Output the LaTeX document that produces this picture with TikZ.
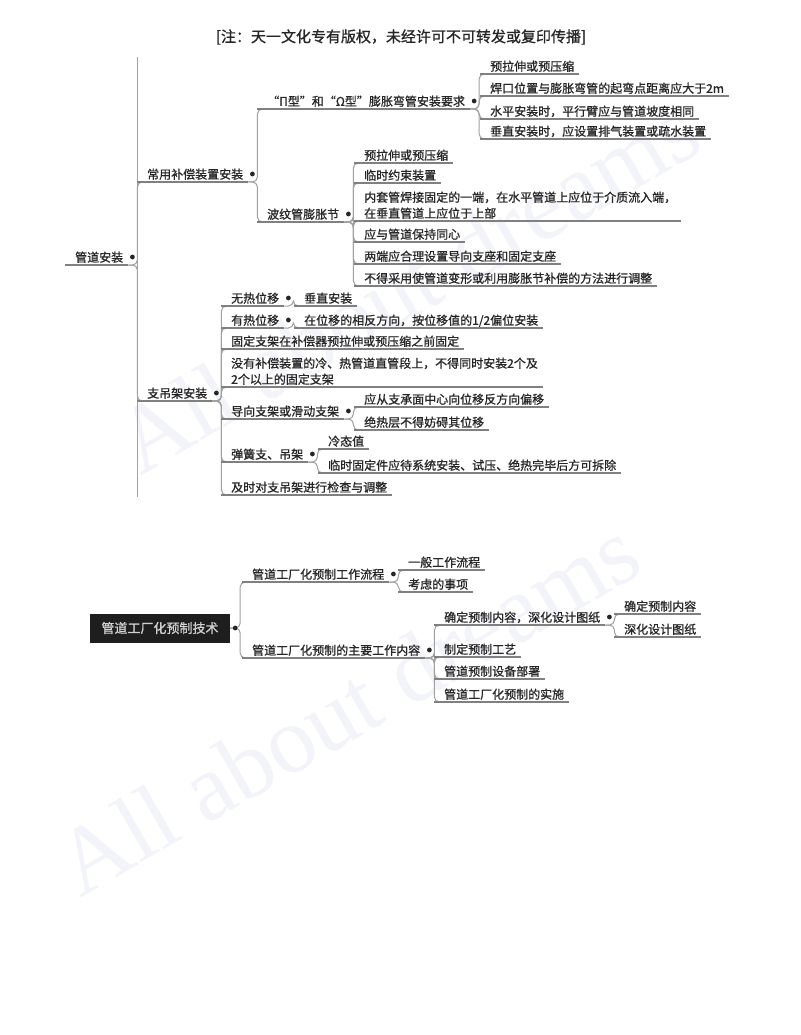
\documentclass[tikz,border=0pt]{standalone}
\usepackage{fontspec}
\newfontfamily\cjk[FakeBold=0.9]{Noto Sans CJK SC}
\newfontfamily\marcafont{Liberation Serif}
\definecolor{texto}{HTML}{262626}
\definecolor{linea}{HTML}{808080}
\definecolor{gris}{HTML}{A0A0A0}
\definecolor{fondo}{HTML}{1E1E1E}
\definecolor{agua}{HTML}{F2F4F9}
\tikzset{
	x=1pt, y=-1pt, % Coordenadas como pixeles, eje y hacia abajo
	tema/.style={anchor=south west, inner sep=0pt, text height=9pt, text depth=3pt, align=left, text=texto, font=\cjk\fontsize{12}{16}\selectfont}, % Texto de cada tema
	raiz/.style={fill=fondo, text=white!82!black, minimum width=140pt, minimum height=29pt, inner sep=0pt, font=\cjk\fontsize{13}{15}\selectfont}, % Tema central oscuro
	subraya/.style={draw=linea, line width=1.4pt}, % Linea bajo cada tema
	rama/.style={draw=gris, line width=1pt, rounded corners=5pt, to path={([xshift=5pt]\tikztostart.south east) -- ([xshift=14pt]\tikztostart.south east) |- ([xshift=-2pt]\tikztotarget.south west)}}, % Conector de padre a hijo
	rama0/.style={draw=gris, line width=1pt, rounded corners=5pt, to path={(\tikztostart.east) -- ([xshift=10pt]\tikztostart.east) |- ([xshift=-2pt]\tikztotarget.south west)}}, % Conector desde la caja
	marca/.style={anchor=base west, rotate=30, text=agua, font=\marcafont\fontsize{95}{95}\selectfont} % Marca de agua
}

\begin{document}
\begin{tikzpicture}
	\path[fill=white, use as bounding box] (0,0) rectangle (800,1035);
	\node[marca] (m1) at (137,478) {All about dreams};
	\node[marca] (m2) at (77,900) {All about dreams};
	\node[text=texto, font=\cjk\fontsize{15}{17}\selectfont] (nota) at (401,37) {[注：天一文化专有版权，未经许可不可转发或复印传播]};

	% primer mapa
	\node[tema] (gd) at (75,265) {管道安装};
	\node[tema] (bc) at (147,182) {常用补偿装置安装};
	\node[tema] (zd) at (147,401) {支吊架安装};
	\node[tema] (pi) at (267,109) {“Π型”和“Ω型”膨胀弯管安装要求};
	\node[tema] (pi1) at (490,74) {预拉伸或预压缩};
	\node[tema] (pi2) at (490,96) {焊口位置与膨胀弯管的起弯点距离应大于2m};
	\node[tema] (pi3) at (490,119) {水平安装时，平行臂应与管道坡度相同};
	\node[tema] (pi4) at (490,139) {垂直安装时，应设置排气装置或疏水装置};
	\node[tema] (bw) at (267,222) {波纹管膨胀节};
	\node[tema] (bw1) at (364,163) {预拉伸或预压缩};
	\node[tema] (bw2) at (364,183) {临时约束装置};
	\node[tema] (bw3) at (364,221) {内套管焊接固定的一端，在水平管道上应位于介质流入端，\\在垂直管道上应位于上部};
	\node[tema] (bw4) at (364,242) {应与管道保持同心};
	\node[tema] (bw5) at (364,264) {两端应合理设置导向支座和固定支座};
	\node[tema] (bw6) at (364,286) {不得采用使管道变形或利用膨胀节补偿的方法进行调整};
	\node[tema] (wr) at (231,306) {无热位移};
	\node[tema] (wr1) at (304,306) {垂直安装};
	\node[tema] (yr) at (231,328) {有热位移};
	\node[tema] (yr1) at (304,328) {在位移的相反方向，按位移值的1/2偏位安装};
	\node[tema] (gz) at (231,349) {固定支架在补偿器预拉伸或预压缩之前固定};
	\node[tema] (mb) at (231,387) {没有补偿装置的冷、热管道直管段上，不得同时安装2个及\\2个以上的固定支架};
	\node[tema] (dx) at (231,419) {导向支架或滑动支架};
	\node[tema] (dx1) at (364,407) {应从支承面中心向位移反方向偏移};
	\node[tema] (dx2) at (364,430) {绝热层不得妨碍其位移};
	\node[tema] (th) at (231,462) {弹簧支、吊架};
	\node[tema] (th1) at (328,449) {冷态值};
	\node[tema] (th2) at (328,473) {临时固定件应待系统安装、试压、绝热完毕后方可拆除};
	\node[tema] (js) at (231,495) {及时对支吊架进行检查与调整};
	\coordinate (sup) at (137,57);
	\coordinate (inf) at (137,497);

	% segundo mapa
	\node[raiz] (yz) at (160,628) {管道工厂化预制技术};
	\node[tema] (lc) at (252,582) {管道工厂化预制工作流程};
	\node[tema] (lc1) at (408,570) {一般工作流程};
	\node[tema] (lc2) at (408,592) {考虑的事项};
	\node[tema] (nr) at (252,658) {管道工厂化预制的主要工作内容};
	\node[tema] (qd) at (444,625) {确定预制内容，深化设计图纸};
	\node[tema] (qd1) at (624,614) {确定预制内容};
	\node[tema] (qd2) at (624,637) {深化设计图纸};
	\node[tema] (nr2) at (444,657) {制定预制工艺};
	\node[tema] (nr3) at (444,679) {管道预制设备部署};
	\node[tema] (nr4) at (444,702) {管道工厂化预制的实施};

	\draw[draw=gris, line width=1pt] (sup) -- (inf);
	\draw	(gd) edge[rama] (bc)
			(gd) edge[rama] (zd)
			(bc) edge[rama] (pi)
			(bc) edge[rama] (bw)
			(pi) edge[rama] (pi1)
			(pi) edge[rama] (pi2)
			(pi) edge[rama] (pi3)
			(pi) edge[rama] (pi4)
			(bw) edge[rama] (bw1)
			(bw) edge[rama] (bw2)
			(bw) edge[rama] (bw3)
			(bw) edge[rama] (bw4)
			(bw) edge[rama] (bw5)
			(bw) edge[rama] (bw6)
			(zd) edge[rama] (wr)
			(zd) edge[rama] (yr)
			(zd) edge[rama] (gz)
			(zd) edge[rama] (mb)
			(zd) edge[rama] (dx)
			(zd) edge[rama] (th)
			(zd) edge[rama] (js)
			(wr) edge[rama] (wr1)
			(yr) edge[rama] (yr1)
			(dx) edge[rama] (dx1)
			(dx) edge[rama] (dx2)
			(th) edge[rama] (th1)
			(th) edge[rama] (th2)
			(yz) edge[rama0] (lc)
			(yz) edge[rama0] (nr)
			(lc) edge[rama] (lc1)
			(lc) edge[rama] (lc2)
			(nr) edge[rama] (qd)
			(nr) edge[rama] (nr2)
			(nr) edge[rama] (nr3)
			(nr) edge[rama] (nr4)
			(qd) edge[rama] (qd1)
			(qd) edge[rama] (qd2)
			;
	\foreach \n in {gd,bc,zd,pi,pi1,pi2,pi3,pi4,bw,bw1,bw2,bw3,bw4,bw5,bw6,wr,wr1,yr,yr1,gz,mb,dx,dx1,dx2,th,th1,th2,js,lc,lc1,lc2,nr,qd,qd1,qd2,nr2,nr3,nr4}
		\draw[subraya] ([xshift=-10pt]\n.south west) -- ([xshift=5pt]\n.south east);
	\foreach \n in {gd,bc,zd,pi,bw,wr,yr,dx,th,lc,nr,qd}
		\fill[texto] ([shift={(9pt,8pt)}]\n.south east) circle (2.4pt);
	\fill[texto] ([xshift=5pt]yz.east) circle (2.4pt);
\end{tikzpicture}
\end{document}
